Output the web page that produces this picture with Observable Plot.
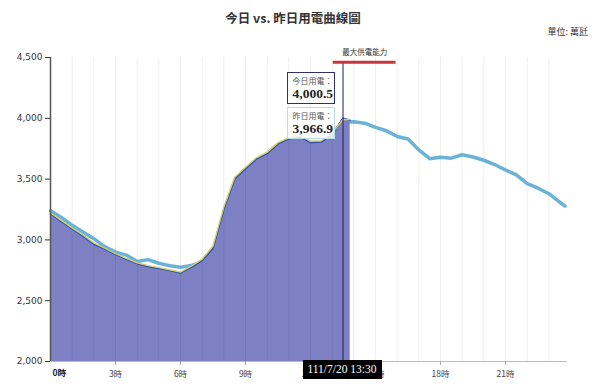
<!DOCTYPE html>
<html><head><meta charset="utf-8">
<script src="https://cdn.jsdelivr.net/npm/d3@7"></script>
<script src="https://cdn.jsdelivr.net/npm/@observablehq/plot@0.6"></script>
<style>
body{margin:0;background:#fff;font-family:"Noto Sans CJK TC","DejaVu Sans",sans-serif;}
#head{position:relative;width:600px;height:40px;}
#title{position:absolute;left:0;width:586px;top:8px;text-align:center;font-size:12.5px;font-weight:bold;color:#333;}
#unit{position:absolute;right:12px;top:25px;font-size:9px;color:#333;}
#wrap{position:relative;width:600px;height:349px;}
.tip{position:absolute;box-sizing:border-box;width:48px;height:32px;padding:2px 0 0 5px;}
.tip .l{font-size:8px;color:#555;line-height:11px;}
.tip .n{font-family:"Liberation Serif",serif;font-weight:bold;font-size:13.5px;color:#222;line-height:16px;}
#tipT{background:#fff;border:1.5px solid #2d3168;}
#tipY{background:rgba(255,255,255,0.82);border:1px solid #b6dcee;}
#tbox{position:absolute;height:19px;width:79px;background:#000;color:#fff;font-family:"Liberation Serif",serif;font-size:11.5px;line-height:19px;text-align:center;}
</style></head>
<body>
<div id="head"><div id="title">今日 vs. 昨日用電曲線圖</div><div id="unit">單位: 萬瓩</div></div>
<div id="wrap"></div>
<script>
// hours (half-hourly)
const yHours = [0,0.5,1,1.5,2,2.5,3,3.5,4,4.5,5,5.5,6,6.5,7,7.5,8,8.5,9,9.5,10,10.5,11,11.5,12,12.5,13,13.5,14,14.5,15,15.5,16,16.5,17,17.5,18,18.5,19,19.5,20,20.5,21,21.5,22,22.5,23,23.5,23.75];
const yesterdayLoad = [3240,3185,3120,3065,3010,2945,2900,2875,2822,2838,2808,2788,2775,2790,2815,2910,3190,3470,3570,3645,3695,3770,3815,3830,3780,3790,3860,3966.9,3972,3960,3925,3898,3850,3830,3740,3668,3680,3672,3700,3682,3655,3620,3575,3535,3462,3425,3380,3310,3278];
const tHours = [0,0.5,1,1.5,2,2.5,3,3.5,4,4.5,5,5.5,6,6.5,7,7.5,8,8.5,9,9.5,10,10.5,11,11.5,12,12.5,13,13.5,13.83];
const todayLoad = [3214,3150,3090,3030,2965,2925,2880,2840,2805,2780,2765,2748,2728,2775,2830,2930,3250,3500,3585,3665,3710,3790,3830,3848,3800,3805,3870,4000.5,3985];
const todayAlt = [3222,3160,3098,3040,2975,2932,2888,2848,2812,2788,2772,2755,2735,2785,2842,2950,3270,3515,3598,3675,3722,3800,3840,3858,3812,3815,3880,3990,3990];
const maxCapH1 = 13.05, maxCapH2 = 15.95, maxCapV = 4460;
const maxCapLabel = "最大供電能力";
const nowHour = 13.5;
const nowLabel = "111/7/20 13:30";
const yTicks = [2000,2500,3000,3500,4000,4500];
const xTicks = [3,6,9,12,15,18,21];
const gridHours = d3.range(1,24);
const xMax = 23.86;

const yest = yHours.map((h,i)=>({h, v: yesterdayLoad[i]}));
const today = tHours.map((h,i)=>({h, v: todayLoad[i]}));
const alt = tHours.map((h,i)=>({h, v: todayAlt[i]}));
const maxCap = [{h1:maxCapH1, h2:maxCapH2, v:maxCapV}];

const plot = Plot.plot({
  width: 600, height: 349,
  marginTop: 17, marginBottom: 28, marginLeft: 50, marginRight: 33,
  x: {domain: [0, xMax], label: null},
  y: {domain: [2000, 4500], label: null},
  style: {fontFamily: "DejaVu Sans", fontSize: "9px", color: "#333", background: "#fff"},
  marks: [
    Plot.ruleX(gridHours, {y1: 2000, y2: 4500, stroke: "#000", strokeOpacity: 0.07}),
    Plot.lineY(yest, {x: "h", y: "v", stroke: "#6ab2d6", strokeWidth: 3.5}),
    Plot.areaY(today, {x: "h", y1: 2000, y2: "v", fill: "#7d80c3"}),
    Plot.ruleX(gridHours.filter(h => h <= 14), {y1: 2000, y2: d => today[Math.min(today.length-1, d*2)].v, stroke: "#000", strokeOpacity: 0.06}),
    Plot.lineY(today, {x: "h", y: "v", stroke: "#3152ad", strokeWidth: 1.6}),
    Plot.lineY(alt, {x: "h", y: "v", stroke: "#cfcd6c", strokeWidth: 1.4}),
    Plot.ruleX([nowHour], {y1: 2000, y2: maxCapV, stroke: "#1c2058", strokeWidth: 1}),
    Plot.ruleY(maxCap, {y: "v", x1: "h1", x2: "h2", stroke: "#c9353a", strokeWidth: 3}),
    Plot.text(maxCap, {x: d => (d.h1 + d.h2) / 2, y: "v", text: () => maxCapLabel, dy: -10, fontSize: 7.5, fill: "#333", fontFamily: "Noto Sans CJK TC"}),
    Plot.axisY({ticks: yTicks, tickFormat: d3.format(","), tickSize: 5, tickPadding: 3, fontSize: 9, label: null}),
    Plot.ruleX([0], {y1: 2000, y2: 4500, stroke: "#555", strokeWidth: 1.5}),
    Plot.ruleY([2000], {x1: 0, x2: xMax, stroke: "#bbb"}),
    Plot.axisX({ticks: xTicks, tickFormat: d => d + "時", tickSize: 4, tickPadding: 5, stroke: "#aaa", fill: "#444", fontSize: 8.5, fontFamily: "Noto Sans CJK TC", label: null}),
    Plot.text([0], {x: d => d, y: 2000, text: () => "0時", fontWeight: "bold", textAnchor: "start", dx: 2, dy: 12, fontSize: 8.5, fontFamily: "Noto Sans CJK TC", fill: "#222"})
  ]
});
const wrap = document.getElementById("wrap");
wrap.appendChild(plot);
const sx = plot.scale("x"), sy = plot.scale("y");
const px = sx.apply(nowHour);
const iNow = tHours.indexOf(nowHour);
const pyT = sy.apply(todayLoad[iNow]);
const pyY = sy.apply(yesterdayLoad[yHours.indexOf(nowHour)]);
const fmt = d3.format(",.1f");
function tip(id, label, val, left, top){
  const d = document.createElement("div");
  d.className = "tip"; d.id = id;
  d.style.left = left + "px"; d.style.top = top + "px";
  d.innerHTML = `<div class="l">${label}</div><div class="n">${fmt(val)}</div>`;
  wrap.appendChild(d);
}
tip("tipY", "昨日用電：", yesterdayLoad[yHours.indexOf(nowHour)], px - 56, pyY - 15);
tip("tipT", "今日用電：", todayLoad[iNow], px - 56, pyT - 46);
const tb = document.createElement("div");
tb.id = "tbox"; tb.textContent = nowLabel;
tb.style.left = (px - 40) + "px"; tb.style.top = (sy.apply(2000) - 1) + "px";
wrap.appendChild(tb);
</script>
</body></html>
